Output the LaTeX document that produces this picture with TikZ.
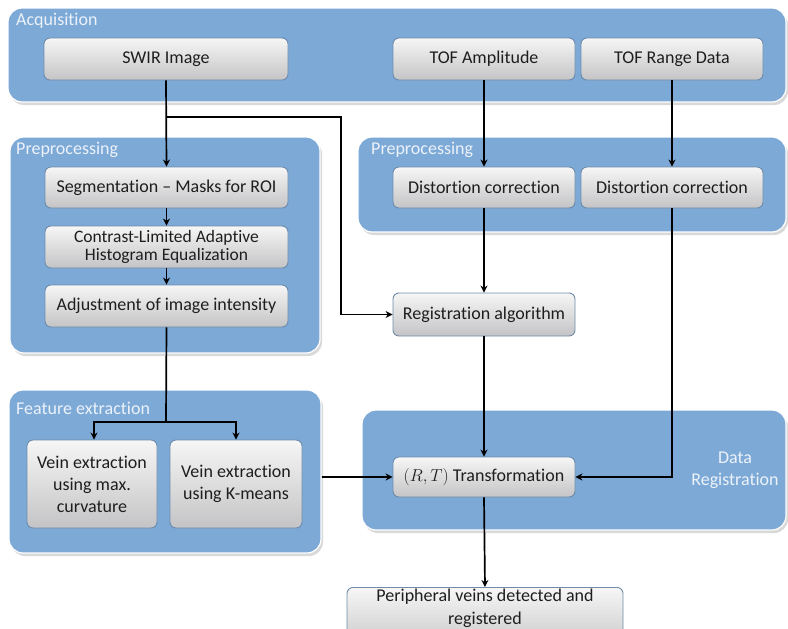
\documentclass[tikz,border=0pt]{standalone}
\usepackage{fontspec}
\setmainfont{Carlito}[Ligatures=NoCommon]
\usetikzlibrary{arrows.meta,calc}
\definecolor{panelblue}{RGB}{125,169,214}
\definecolor{boxedge}{RGB}{110,140,170}
\definecolor{boxtop}{RGB}{246,246,246}
\definecolor{boxbot}{RGB}{196,196,198}
\definecolor{txt}{RGB}{30,30,30}
\definecolor{lbl}{RGB}{236,242,250}
\tikzset{
  panel/.style={rectangle, rounded corners=14pt, fill=panelblue, draw=white, line width=1.2pt, inner sep=0pt},
  paneltitle/.style={anchor=west, text=lbl, font=\fontsize{18}{20}\selectfont, inner sep=0pt},
  procbox/.style={rectangle, rounded corners=6pt, top color=boxtop, bottom color=boxbot, draw=boxedge, line width=0.9pt,
    text=txt, font=\fontsize{18}{20}\selectfont, align=center, inner sep=2pt},
  conn/.style={line width=1.7pt, draw=black},
  arr/.style={conn, -{Stealth[length=7pt,width=7pt]}}
}
\begin{document}
\begin{tikzpicture}[x=1pt,y=-1pt]
\clip (0,0) rectangle (788,629);
\useasboundingbox (0,0) rectangle (788,629);
\fill[white] (0,0) rectangle (788,629);
% shadows of panels
\foreach \a/\b/\c/\d in {8/8/786/102, 10/137/320/353, 358/137/786/232, 9/390/321/553, 362/410/786/530}{
  \fill[black!15, rounded corners=14pt] (\a+2,\b+3) rectangle (\c+2,\d+3);
}
% panels
\node[panel, minimum width=778pt, minimum height=94pt] (acq) at (397,55) {};
\node[panel, minimum width=310pt, minimum height=216pt] (pre1) at (165,245) {};
\node[panel, minimum width=428pt, minimum height=95pt] (pre2) at (572,184.5) {};
\node[panel, minimum width=312pt, minimum height=163pt] (feat) at (165,471.5) {};
\node[panel, minimum width=424pt, minimum height=120pt] (datareg) at (574,470) {};
\node[paneltitle] (tacq) at (16,21) {Acquisition};
\node[paneltitle] (tpre1) at (16,150) {Preprocessing};
\node[paneltitle] (tpre2) at (371,150) {Preprocessing};
\node[paneltitle] (tfeat) at (16,408) {Feature extraction};
\node[text=lbl, font=\fontsize{18}{22}\selectfont, align=center, inner sep=0pt] (tdata) at (735,470) {Data\\Registration};
% boxes
\node[procbox, minimum width=244pt, minimum height=42pt] (swir) at (166,59) {SWIR Image};
\node[procbox, minimum width=182pt, minimum height=42pt] (tofa) at (484,59) {TOF Amplitude};
\node[procbox, minimum width=182pt, minimum height=42pt] (tofr) at (672,59) {TOF Range Data};
\node[procbox, minimum width=243pt, minimum height=41pt] (seg) at (166.5,187.5) {Segmentation -- Masks for ROI};
\node[procbox, minimum width=243pt, minimum height=42pt, font=\fontsize{17.5}{18.5}\selectfont] (clahe) at (166.5,247) {Contrast-Limited Adaptive\\Histogram Equalization};
\node[procbox, minimum width=243pt, minimum height=42pt] (adj) at (166.5,306) {Adjustment of image intensity};
\node[procbox, minimum width=182pt, minimum height=41pt] (dc1) at (484,187.5) {Distortion correction};
\node[procbox, minimum width=182pt, minimum height=41pt] (dc2) at (672,187.5) {Distortion correction};
\node[procbox, minimum width=182pt, minimum height=43pt] (reg) at (484,314.5) {Registration algorithm};
\node[procbox, minimum width=130pt, minimum height=88pt, font=\fontsize{18}{22}\selectfont] (v1) at (92,484) {Vein extraction\\using max.\\curvature};
\node[procbox, minimum width=132pt, minimum height=88pt, font=\fontsize{18}{22}\selectfont] (v2) at (236,484) {Vein extraction\\using K-means};
\node[procbox, minimum width=182pt, minimum height=40pt] (rt) at (484,477) {$(R,T)$ Transformation};
\node[procbox, minimum width=276pt, minimum height=52pt, anchor=north, font=\fontsize{18}{23}\selectfont] (out) at (485,587) {Peripheral veins detected and\\registered\\[4pt]};
% connectors
\coordinate (j1) at (166,117);
\draw[arr] (swir.south) -- (seg.north);
\draw[arr] (j1) -- (341,117) |- (reg.west);
\draw[arr] (seg.south) -- (clahe.north);
\draw[arr] (clahe.south) -- (adj.north);
\draw[arr] (tofa.south) -- (dc1.north);
\draw[arr] (tofr.south) -- (dc2.north);
\draw[arr] (dc1.south) -- (reg.north);
\draw[arr] (reg.south) -- (rt.north);
\draw[arr] (rt.south) -- (out.north);
\coordinate (j2) at (166,422);
\draw[conn] (adj.south) -- (j2);
\draw[arr] (j2) -| ($(v1.north)+(2,0)$);
\draw[arr] (j2) -| (v2.north);
\draw[arr] (feat.east |- rt.west) -- (rt.west);
\draw[arr] (dc2.south) |- (rt.east);
\end{tikzpicture}
\end{document}
